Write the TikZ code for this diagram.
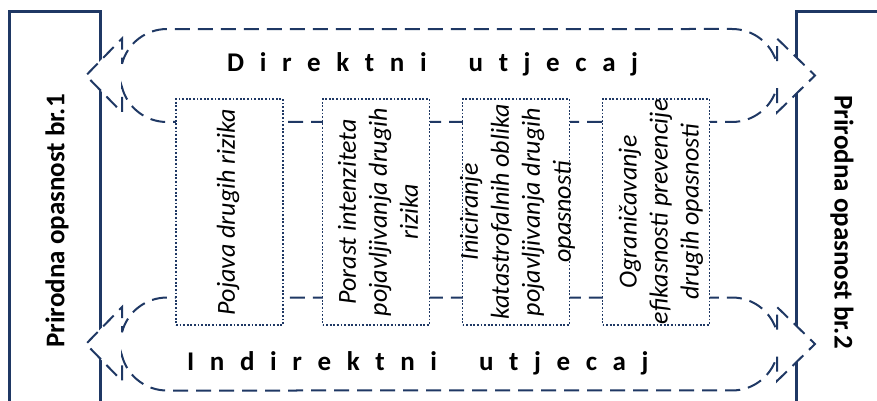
\documentclass[tikz,border=0pt]{standalone}
\usepackage{fontspec}
\setmainfont{Carlito}
\definecolor{navy}{RGB}{31,56,100}
\newcommand\lsp{\hspace{15.6pt}}
\newcommand\wsp{\hspace{42pt}}
\newcommand\dblarrowpath[1]{%
  (122,{#1-11.7}) arc[start angle=194.6, end angle=270, radius=46.5]
  -- (732,{#1-46.5}) arc[start angle=270, end angle=345.4, radius=46.5]
  -- (777,{#1-37}) -- (815,#1) -- (777,{#1+37}) -- (777,{#1+11.7})
  arc[start angle=14.6, end angle=90, radius=46.5]
  -- (167,{#1+46.5}) arc[start angle=90, end angle=165.4, radius=46.5]
  -- (122,{#1+37}) -- (86,#1) -- (122,{#1-37}) -- cycle}
\begin{document}
\begin{tikzpicture}[x=1pt,y=-1pt]
\tikzset{
  hazard/.style={draw=navy, line width=3pt},
  arrowshape/.style={draw=navy, line width=2pt, dash pattern=on 15pt off 8pt, fill=white},
  dbox/.style={draw=navy, line width=1.8pt, dash pattern=on 1.8pt off 1.8pt, fill=white,
    minimum width=107pt, minimum height=226pt, inner sep=0pt},
  btext/.style={rotate=90, align=center, font=\fontsize{26}{31}\selectfont\itshape, inner sep=0pt},
  hlabel/.style={font=\fontsize{27}{30}\selectfont\bfseries, inner sep=0pt},
}
\useasboundingbox (0,0) rectangle (877,401);
% hazard boxes
\draw[hazard] (9,410) -- (9,12) -- (100,12) -- (100,410);
\draw[hazard] (796,410) -- (796,12) -- (890,12);
% double arrows
\draw[arrowshape] \dblarrowpath{75.5};
\draw[arrowshape] \dblarrowpath{344};
% dotted boxes
\node[dbox] (b1) at (229.5,212) {};
\node[dbox] (b2) at (376,212) {};
\node[dbox] (b3) at (516,212) {};
\node[dbox] (b4) at (656,212) {};
% texts
\node[btext] (t1) at (228,212) {Pojava drugih rizika};
\node[btext] (t2) at (378,212) {Porast intenziteta\\pojavljivanja drugih\\rizika};
\node[btext] (t3) at (517.5,212) {Iniciranje\\katastrofalnih oblika\\pojavljivanja drugih\\opasnosti};
\node[btext] (t4) at (661,212) {Ograničavanje\\efikasnosti prevencije\\drugih opasnosti};
\node[hlabel, rotate=90] (p1) at (57,221) {Prirodna opasnost br.1};
\node[hlabel, rotate=-90] (p2) at (842,222) {Prirodna opasnost br.2};
\node[hlabel, anchor=base west] (dir) at (227,72) {D\lsp i\lsp r\lsp e\lsp k\lsp t\lsp n\lsp i\wsp u\lsp t\lsp j\lsp e\lsp c\lsp a\lsp j};
\node[hlabel, anchor=base west] (ind) at (187,370) {I\lsp n\lsp d\lsp i\lsp r\lsp e\lsp k\lsp t\lsp n\lsp i\wsp u\lsp t\lsp j\lsp e\lsp c\lsp a\lsp j};
\end{tikzpicture}
\end{document}
